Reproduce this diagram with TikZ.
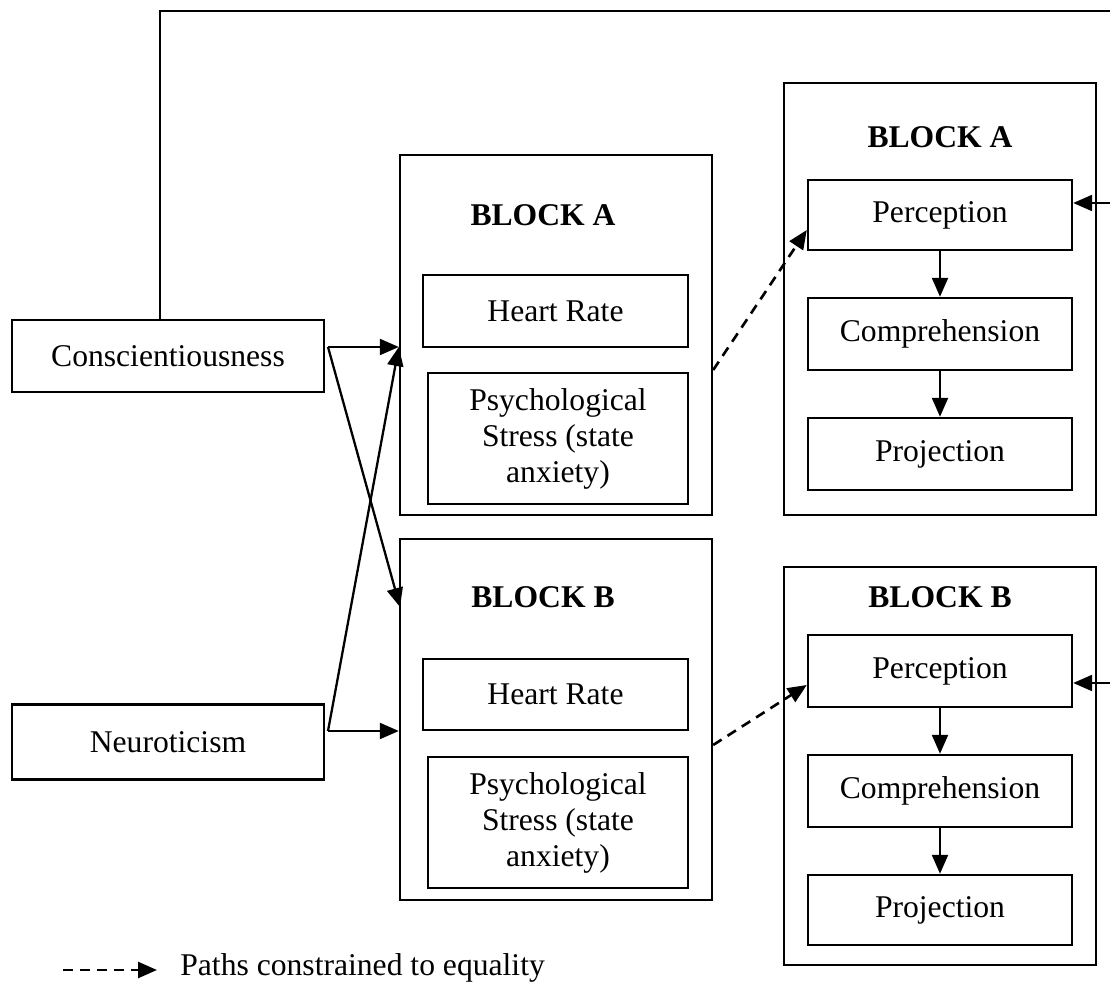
\documentclass[tikz,border=0pt]{standalone}
\usepackage{fontspec}
\setmainfont{Liberation Serif}
\usetikzlibrary{arrows.meta}
\tikzstyle{box} = [rectangle, draw=black, line width=1.4pt, inner sep=0pt, text centered, align=center]
\tikzstyle{title} = [inner sep=0pt, font=\fontsize{18}{20.5}\selectfont\bfseries]
\tikzstyle{arrow} = [line width=1.3pt, -{Triangle[length=0.38cm,width=0.32cm]}]
\tikzstyle{dasharrow} = [arrow, line width=1.5pt, dash pattern=on 0.2cm off 0.14cm]
\tikzstyle{line} = [line width=1.3pt]

\begin{document}
\begin{tikzpicture}[x=0.02cm, y=-0.02cm, font=\fontsize{18}{20.5}\selectfont]
\useasboundingbox (0,0) rectangle (1110,996);
% traits
\node (consc) [box, minimum width=6.24cm, minimum height=1.44cm] at (168,356) {Conscientiousness};
\node (neuro) [box, minimum width=6.24cm, minimum height=1.50cm] at (168,742) {Neuroticism};
% middle blocks
\node (blkA) [box, minimum width=6.24cm, minimum height=7.2cm] at (556,335) {};
\node (tA) [title] at (543,215) {BLOCK A};
\node (hrA) [box, minimum width=5.3cm, minimum height=1.44cm] at (555.5,311) {Heart Rate};
\node (psA) [box, minimum width=5.2cm, minimum height=2.62cm] at (558,438.5) {Psychological\\Stress (state\\anxiety)};
\node (blkB) [box, minimum width=6.24cm, minimum height=7.22cm] at (556,719.5) {};
\node (tB) [title] at (543,597) {BLOCK B};
\node (hrB) [box, minimum width=5.3cm, minimum height=1.42cm] at (555.5,694.5) {Heart Rate};
\node (psB) [box, minimum width=5.2cm, minimum height=2.62cm] at (558,822.5) {Psychological\\Stress (state\\anxiety)};
% right blocks
\node (rA) [box, minimum width=6.24cm, minimum height=8.64cm] at (940,299) {};
\node (rtA) [title] at (940,137) {BLOCK A};
\node (percA) [box, minimum width=5.28cm, minimum height=1.4cm] at (940,215) {Perception};
\node (compA) [box, minimum width=5.28cm, minimum height=1.44cm] at (940,334) {Comprehension};
\node (projA) [box, minimum width=5.28cm, minimum height=1.44cm] at (940,454) {Projection};
\node (rB) [box, minimum width=6.24cm, minimum height=7.96cm] at (940,766) {};
\node (rtB) [title] at (940,597) {BLOCK B};
\node (percB) [box, minimum width=5.28cm, minimum height=1.44cm] at (940,671) {Perception};
\node (compB) [box, minimum width=5.28cm, minimum height=1.44cm] at (940,791) {Comprehension};
\node (projB) [box, minimum width=5.28cm, minimum height=1.4cm] at (940,910) {Projection};

\draw [arrow] (percA) -- (compA);
\draw [arrow] (compA) -- (projA);
\draw [arrow] (percB) -- (compB);
\draw [arrow] (compB) -- (projB);

% trait paths
\coordinate (cOut) at (328,347);
\coordinate (nOut) at (328,731);
\draw [arrow] (cOut) -- (blkA.west |- cOut);
\draw [arrow] (cOut) -- (400,607);
\draw [arrow] (nOut) -- (blkB.west |- nOut);
\draw [arrow] (nOut) -- (blkA.west |- cOut);

% constrained paths
\draw [dasharrow] ([yshift=-0.7cm]blkA.east) -- ([yshift=-0.3cm]percA.west);
\draw [dasharrow] ([yshift=-0.51cm]blkB.east) -- ([yshift=-0.28cm]percB.west);

% feedback from conscientiousness
\coordinate (fbTop) at (1114,11);
\coordinate (fbA) at (1114,203);
\coordinate (fbB) at (1114,683);
\draw [line] ([xshift=-0.16cm]consc.north) |- (fbTop) -- (fbB);
\draw [arrow] (fbA) -- (percA.east |- fbA);
\draw [arrow] (fbB) -- (percB.east |- fbB);

% legend
\coordinate (lgS) at (63,970);
\coordinate (lgE) at (157,970);
\draw [dasharrow] (lgS) -- (lgE);
\node (lgT) [anchor=west, inner sep=0pt] at (180,968) {Paths constrained to equality};
\end{tikzpicture}
\end{document}
